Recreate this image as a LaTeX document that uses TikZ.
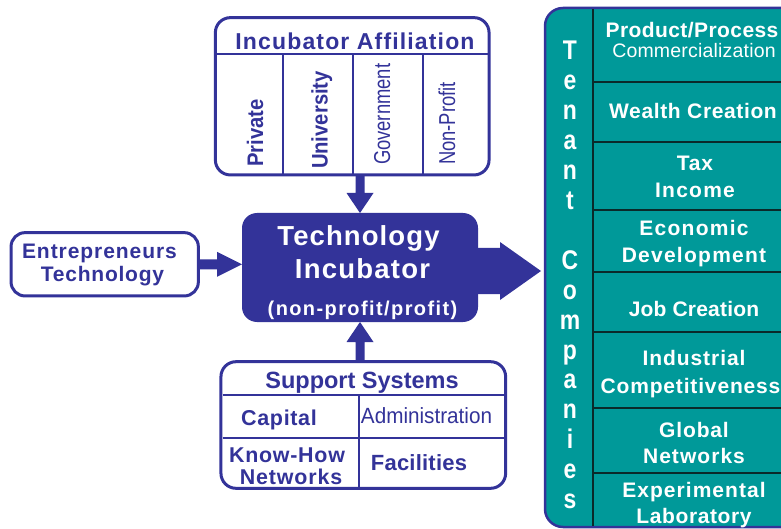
\documentclass[tikz,border=0pt]{standalone}
\usepackage{fontspec}
\setmainfont{Liberation Sans}
\usepackage{graphicx}
\usetikzlibrary{calc}
\definecolor{navy}{HTML}{333399}
\definecolor{tealc}{HTML}{009999}
\definecolor{divc}{HTML}{0A2A2A}
\newcommand{\tx}[4][1]{\scalebox{#1}[1]{\fontsize{#2}{#2}\selectfont\addfontfeatures{LetterSpace=#3}#4}}
\begin{document}
\begin{tikzpicture}[x=1pt,y=-1pt,
  every node/.style={inner sep=0pt,outer sep=0pt},
  frame/.style={draw=navy,line width=3pt,rounded corners=15pt,fill=white},
  navyt/.style={text=navy,font=\bfseries},
  navyr/.style={text=navy},
  whitet/.style={text=white,font=\bfseries},
  whiter/.style={text=white},
  rule/.style={draw=navy,line width=2pt},
  cellrule/.style={draw=divc,line width=2pt}]
\useasboundingbox (0,0) rectangle (781,529);

% ---------- Incubator Affiliation ----------
\node[frame,minimum width=273.7pt,minimum height=157.3pt] (aff) at (352.2,96.3) {};
\draw[rule] (216.5,54) -- (487.8,54);
\foreach \x in {283.3,353.3,422.7} \draw[rule] (\x,54) -- (\x,174);
\node[navyt,anchor=base] (affh) at (355,50) {\tx{23}{5}{Incubator Affiliation}};
\node[navyt,rotate=90,anchor=base west] (apriv) at (263,167) {\tx[0.9]{22.5}{0}{Private}};
\node[navyt,rotate=90,anchor=base west] (auniv) at (327.5,169) {\tx[0.9]{22.5}{0}{University}};
\node[navyr,rotate=90,anchor=base west] (agov) at (390,165) {\tx[0.8]{23}{0}{Government}};
\node[navyr,rotate=90,anchor=base west] (anp) at (455,165) {\tx[0.8]{23}{0}{Non-Profit}};

% ---------- Technology Incubator ----------
\node[fill=navy,rounded corners=15pt,minimum width=236pt,minimum height=109pt] (inc) at (360,267.5) {};
\node[whitet,anchor=base] (inc1) at (358.5,245) {\tx{27.5}{4}{Technology}};
\node[whitet,anchor=base] (inc2) at (362.5,278) {\tx{27.5}{4.5}{Incubator}};
\node[whitet,anchor=base] (inc3) at (362.5,315) {\tx{20}{7}{(non-profit/profit)}};

% ---------- Entrepreneurs ----------
\node[frame,rounded corners=14pt,minimum width=187.3pt,minimum height=63.3pt] (ent) at (104.7,264.3) {};
\node[navyt,anchor=base] (ent1) at (99.5,258.3) {\tx{21}{4.5}{Entrepreneurs}};
\node[navyt,anchor=base] (ent2) at (102.5,281.7) {\tx{21}{3.7}{Technology}};

% ---------- Support Systems ----------
\node[frame,minimum width=284.7pt,minimum height=126.6pt] (sup) at (363.3,425) {};
\draw[rule] (222.5,395) -- (504.2,395);
\draw[rule] (222.5,438.3) -- (504.2,438.3);
\draw[rule] (359,395) -- (359,487);
\node[navyt,anchor=base] (suph) at (362,388.7) {\tx{23.5}{0}{Support Systems}};
\node[navyt,anchor=base] (scap) at (279,425.3) {\tx{21.5}{3}{Capital}};
\node[navyr,anchor=base] (sadm) at (426.5,423) {\tx[0.94]{22}{0}{Administration}};
\node[navyt,anchor=base] (skh) at (287,462.7) {\tx{21.4}{3.5}{Know-How}};
\node[navyt,anchor=base] (snet) at (291,484) {\tx{21.4}{4}{Networks}};
\node[navyt,anchor=base] (sfac) at (419,470) {\tx{22}{1}{Facilities}};

% ---------- Tenant Companies panel ----------
\node[draw=navy,line width=2.5pt,fill=tealc,rounded corners=18pt,minimum width=255pt,minimum height=519pt] (panel) at (672.5,267.5) {};
\draw[cellrule] (593.3,9.3) -- (593.3,525.7);
\foreach \y in {82,142,210,272,332,408,473} \draw[cellrule] (594,\y) -- (799,\y);
\foreach \l [count=\i from 0] in {T,e,n,a,n,t,{},C,o,m,p,a,n,i,e,s}
  \node[whitet,anchor=base] (ten\i) at (570,{60+29.9*\i}) {\tx[0.85]{27}{0}{\l}};

\node[whitet,anchor=base] (r1a) at (692,37.3) {\tx{21}{2}{Product/Process}};
\node[whiter,anchor=base] (r1b) at (694,57.3) {\tx{19.5}{1}{Commercialization}};
\node[whitet,anchor=base] (r2) at (693,119) {\tx{21}{3}{Wealth Creation}};
\node[whitet,anchor=base] (r3a) at (695,170.7) {\tx{21}{4}{Tax}};
\node[whitet,anchor=base] (r3b) at (695,197.3) {\tx{21}{6}{Income}};
\node[whitet,anchor=base] (r4a) at (694,235.7) {\tx{21}{6}{Economic}};
\node[whitet,anchor=base] (r4b) at (694,262.3) {\tx{21}{6}{Development}};
\node[whitet,anchor=base] (r5) at (694,316) {\tx{21}{1}{Job Creation}};
\node[whitet,anchor=base] (r6a) at (694,365.7) {\tx{21}{4.5}{Industrial}};
\node[whitet,anchor=base] (r6b) at (690.5,393.3) {\tx{21}{4}{Competitiveness}};
\node[whitet,anchor=base] (r7a) at (694,437.3) {\tx{21}{4}{Global}};
\node[whitet,anchor=base] (r7b) at (694,463.3) {\tx{21}{5}{Networks}};
\node[whitet,anchor=base] (r8a) at (694,497.3) {\tx{21}{5}{Experimental}};
\node[whitet,anchor=base] (r8b) at (694,523.3) {\tx{21}{3}{Laboratory}};

% ---------- Arrows ----------
% affiliation -> incubator
\fill[navy] (inc.north) -- ($(inc.north)+(-13.5,-20)$) -- ($(inc.north)+(-4.5,-20)$)
  -- ($(inc.north |- aff.south)+(-4.5,0)$) -- ($(inc.north |- aff.south)+(4.5,0)$)
  -- ($(inc.north)+(4.5,-20)$) -- ($(inc.north)+(13.5,-20)$) -- cycle;
% support -> incubator
\fill[navy] (inc.south) -- ($(inc.south)+(13.5,20)$) -- ($(inc.south)+(4.5,20)$)
  -- ($(inc.south |- sup.north)+(4.5,0)$) -- ($(inc.south |- sup.north)+(-4.5,0)$)
  -- ($(inc.south)+(-4.5,20)$) -- ($(inc.south)+(-13.5,20)$) -- cycle;
% entrepreneurs -> incubator
\coordinate (lt) at (inc.west |- ent.east);
\fill[navy] ($(ent.east)+(0,-5)$) -- ($(lt)+(-25,-5)$) -- ($(lt)+(-25,-12.5)$) -- (lt)
  -- ($(lt)+(-25,12.5)$) -- ($(lt)+(-25,5)$) -- ($(ent.east)+(0,5)$) -- cycle;
% incubator -> tenant companies
\coordinate (ra) at ($(inc.east)+(0,3.5)$);
\coordinate (rt) at ($(ra -| panel.west)+(-4,0)$);
\fill[navy] ($(ra)+(-2,-23)$) -- ($(rt)+(-41,-23)$) -- ($(rt)+(-41,-29)$) -- (rt)
  -- ($(rt)+(-41,29)$) -- ($(rt)+(-41,23)$) -- ($(ra)+(-2,23)$) -- cycle;
\end{tikzpicture}
\end{document}
